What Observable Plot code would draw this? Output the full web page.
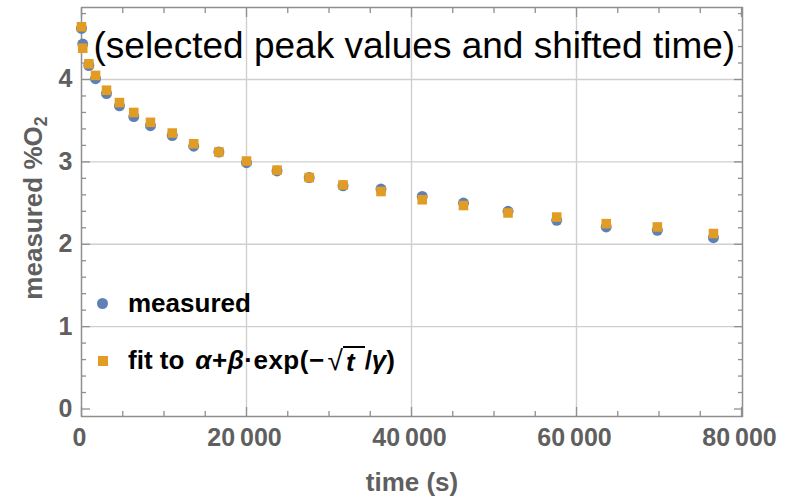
<!DOCTYPE html>
<html>
<head>
<meta charset="utf-8">
<script src="https://cdn.jsdelivr.net/npm/d3@7"></script>
<script src="https://cdn.jsdelivr.net/npm/@observablehq/plot@0.6"></script>
<style>
  body { margin: 0; background: #fff; }
  #chart { position: relative; width: 790px; height: 497px; }
  .legend {
    position: absolute; left: 97px; top: 275px;
    font-family: "Liberation Sans", Arial, sans-serif; font-weight: bold;
    font-size: 26px; color: #000;
  }
  .legend .row { display: flex; align-items: center; white-space: nowrap; height: 57px; }
  .legend .sw { display: inline-block; width: 11px; height: 11px; margin-right: 20px; }
  .legend .circle { background: #5E81B5; border-radius: 50%; }
  .legend .square { background: #E19C24; width: 10px; height: 10px; margin-left: 1px; margin-right: 20px; }
  .legend i { font-style: italic; }
  .legend .expr { margin-left: 11px; letter-spacing: 0.5px; }
  .legend .root { font-weight: normal; font-size: 28px; margin-left: 3px; }
  .legend .rad { border-top: 2px solid #000; padding: 1px 10px 0 3px; line-height: 26px; display: inline-block; }
</style>
</head>
<body>
<div id="chart"></div>
<script>
// shifted sample times (s)
const times = [0, 150, 890, 1700, 3030, 4600, 6340, 8360, 11000, 13600, 16650, 20000,
  23700, 27600, 31700, 36300, 41300, 46300, 51700, 57600, 63600, 69800, 76600];
// measured peak O2 (%)
const measured = [4.62, 4.43, 4.17, 4.01, 3.83, 3.68, 3.55, 3.44, 3.32, 3.19, 3.12, 2.99,
  2.89, 2.81, 2.71, 2.67, 2.58, 2.50, 2.40, 2.29, 2.21, 2.17, 2.08];
// fitted curve alpha + beta*exp(-sqrt(t)/gamma) evaluated at the same times
const fitted = [4.64, 4.38, 4.19, 4.05, 3.87, 3.72, 3.60, 3.48, 3.35, 3.22, 3.12, 3.01,
  2.90, 2.81, 2.72, 2.64, 2.54, 2.47, 2.38, 2.33, 2.25, 2.21, 2.13];

const xTicks = [0, 20000, 40000, 60000, 80000];
const yTicks = [0, 1, 2, 3, 4];
const xMinor = d3.range(0, 80001, 5000).filter(d => !xTicks.includes(d));
const yMinor = d3.range(0, 4.9, 0.2).map(d => +d.toFixed(1)).filter(d => !yTicks.includes(d));

const rows = times.map((t, i) => ({t, measured: measured[i], fit: fitted[i]}));

const frameColor = "#8f8f8f";
const labelColor = "#5f5f5f";
const sans = "'Liberation Sans', Arial, sans-serif";
const fmt = d => d === 0 ? "0" : d3.format(",")(d).replace(",", "\u2009");

function ticks(axis, values, anchor, size) {
  return axis(values, {anchor, tickSize: -size, fill: "none", label: null, stroke: frameColor, strokeWidth: 1.3});
}

const plot = Plot.plot({
  width: 790,
  height: 497,
  marginLeft: 81,
  marginRight: 48,
  marginTop: 7,
  marginBottom: 81,
  x: {domain: [0, 80120]},
  y: {domain: [-0.091, 4.874]},
  marks: [
    Plot.gridX([20000, 40000, 60000], {stroke: "#cfcfcf", strokeOpacity: 1, strokeWidth: 1.4}),
    Plot.gridY([1, 2, 3, 4], {stroke: "#cfcfcf", strokeOpacity: 1, strokeWidth: 1.4}),
    ticks(Plot.axisX, xTicks, "bottom", 9),
    ticks(Plot.axisX, xMinor, "bottom", 5),
    ticks(Plot.axisX, xTicks, "top", 9),
    ticks(Plot.axisX, xMinor, "top", 5),
    ticks(Plot.axisY, yTicks, "left", 9),
    ticks(Plot.axisY, yMinor, "left", 5),
    ticks(Plot.axisY, yTicks, "right", 9),
    ticks(Plot.axisY, yMinor, "right", 5),
    Plot.axisX(xTicks, {anchor: "bottom", tickSize: 0, tickPadding: 12, dx: -2, tickFormat: fmt, label: null,
      fontFamily: sans, fontWeight: "bold", fontSize: 25, fill: labelColor}),
    Plot.axisY(yTicks, {anchor: "left", tickSize: 0, tickPadding: 9, tickFormat: d => String(d), label: null,
      fontFamily: sans, fontWeight: "bold", fontSize: 25, fill: labelColor}),
    Plot.frame({stroke: frameColor, strokeWidth: 1.5}),
    Plot.text(["time (s)"], {frameAnchor: "bottom", dy: 74, text: d => d,
      fontFamily: sans, fontWeight: "bold", fontSize: 26, fill: labelColor}),
    Plot.text(["measured %O"], {frameAnchor: "left", dx: -48, dy: -4, rotate: -90, textAnchor: "middle", text: d => d,
      fontFamily: sans, fontWeight: "bold", fontSize: 26, fill: labelColor}),
    Plot.dot(rows, {x: "t", y: "measured", r: 5.5, symbol: "circle", fill: "#5E81B5"}),
    Plot.dot(rows, {x: "t", y: "fit", r: 5.4, symbol: "square", fill: "#E19C24"}),
    Plot.text(["(selected peak values and shifted time)"], {frameAnchor: "top-left", dx: 12, dy: 24,
      textAnchor: "start", text: d => d, fontFamily: sans, fontSize: 37, fill: "#000"})
  ]
});

// subscript 2 on the O2 axis title
d3.select(plot).selectAll("text").filter(function () { return this.textContent === "measured %O"; })
  .append("tspan").attr("dy", "0.3em").attr("font-size", "0.68em").text("2");

const chart = document.getElementById("chart");
chart.appendChild(plot);

const legend = document.createElement("div");
legend.className = "legend";
legend.innerHTML =
  '<div class="row"><span class="sw circle"></span>measured</div>' +
  '<div class="row"><span class="sw square"></span>fit to<span class="expr"><i>α</i>+<i>β</i>·exp(−</span>' +
  '<span class="root">√</span><span class="rad"><i>t</i></span>/<i>γ</i>)</div>';
chart.appendChild(legend);
</script>
</body>
</html>
